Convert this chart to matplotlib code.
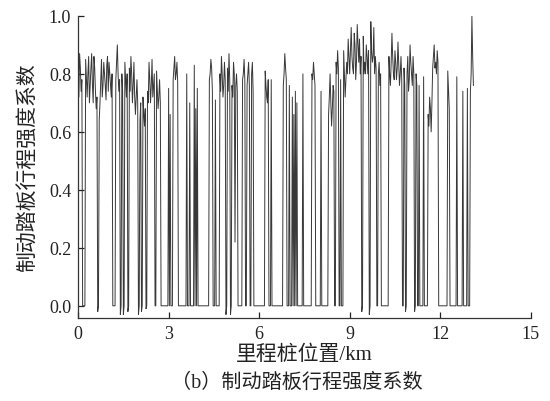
import numpy as np
import matplotlib
matplotlib.use("Agg")
import matplotlib.pyplot as plt

# Brake pedal travel intensity.
# row_xx: samples every 0.05 km starting at km xx; mid_xx: samples 0.025 km after each row sample
step_km = 0.025
row_00 = [0.80, 0.87, 0.74, 0.0, 0.0, 0.85, 0.72, 0.86, 0.76, 0.87, 0.70, 0.82, 0.68, -0.02, 0.64, 0.78, 0.72, 0.84, 0.76, 0.83]
mid_00 = [0.72, 0.82, 0.78, 0.0, 0.0, 0.78, 0.80, 0.70, 0.82, 0.76, 0.86, 0.74, 0.72, 0.0, 0.70, 0.85, 0.76, 0.80, 0.71, 0.86]
row_01 = [0.74, 0.80, 0.72, 0.0, 0.0, 0.78, 0.90, 0.74, -0.03, 0.80, -0.03, 0.84, 0.72, -0.02, 0.82, 0.86, 0.70, 0.84, 0.66, 0.78]
mid_01 = [0.84, 0.76, 0.80, 0.0, 0.0, 0.84, 0.80, 0.78, 0.0, 0.74, 0.0, 0.78, 0.80, 0.0, 0.74, 0.80, 0.76, 0.72, 0.72, 0.70]
row_02 = [-0.03, 0.64, -0.02, 0.72, 0.62, -0.01, 0.74, 0.84, 0.70, 0.85, 0.76, 0.0, 0.81, 0.68, 0.78, 0.0, 0.0, 0.0, 0.0, 0.0]
mid_02 = [0.0, 0.70, 0.0, 0.66, 0.68, 0.0, 0.70, 0.78, 0.76, 0.72, 0.80, 0.0, 0.74, 0.72, 0.70, 0.0, 0.0, 0.0, 0.0, 0.0]
row_03 = [0.75, 0.66, 0.0, 0.78, 0.86, 0.80, 0.77, 0.0, 0.0, 0.0, 0.0, 0.0, 0.80, 0.0, 0.70, 0.0, 0.0, 0.83, 0.68, 0.75]
mid_03 = [0.0, 0.0, 0.0, 0.82, 0.78, 0.84, 0.0, 0.0, 0.0, 0.0, 0.0, 0.0, 0.0, 0.0, 0.0, 0.0, 0.0, 0.0, 0.0, 0.0]
row_04 = [0.0, 0.0, 0.0, 0.0, 0.0, 0.0, 0.0, 0.78, 0.85, 0.74, 0.0, 0.71, 0.0, 0.0, 0.80, 0.86, 0.72, 0.84, -0.03, 0.82]
mid_04 = [0.0, 0.0, 0.0, 0.0, 0.0, 0.0, 0.0, 0.80, 0.82, 0.0, 0.0, 0.0, 0.0, 0.0, 0.74, 0.80, 0.76, 0.78, 0.0, 0.74]
row_05 = [0.87, -0.03, 0.76, 0.84, 0.22, 0.80, 0.0, 0.0, 0.0, 0.78, 0.85, 0.0, 0.76, 0.84, 0.0, 0.80, 0.74, 0.0, 0.0, 0.0]
mid_05 = [0.78, 0.0, 0.72, 0.80, 0.76, 0.74, 0.0, 0.0, 0.0, 0.80, 0.78, 0.0, 0.80, 0.76, 0.0, 0.84, 0.0, 0.0, 0.0, 0.0]
row_06 = [0.0, 0.0, 0.0, 0.0, 0.81, 0.72, 0.78, 0.0, 0.78, 0.0, 0.0, 0.0, 0.0, 0.0, 0.0, 0.0, 0.76, 0.87, 0.78, 0.0]
mid_06 = [0.0, 0.0, 0.0, 0.0, 0.76, 0.70, 0.0, 0.0, 0.0, 0.0, 0.0, 0.0, 0.0, 0.0, 0.0, 0.0, 0.80, 0.82, 0.0, 0.0]
row_07 = [0.76, 0.0, 0.72, 0.66, 0.74, 0.70, 0.0, 0.0, 0.0, 0.80, 0.0, 0.0, 0.0, 0.0, 0.0, 0.80, 0.84, 0.76, 0.0, 0.0]
mid_07 = [0.0, 0.0, 0.0, 0.0, 0.0, 0.0, 0.0, 0.0, 0.0, 0.0, 0.0, 0.0, 0.0, 0.0, 0.0, 0.78, 0.80, 0.0, 0.0, 0.0]
row_08 = [0.0, 0.74, 0.0, 0.0, 0.0, 0.0, 0.66, 0.80, 0.62, 0.76, 0.0, 0.84, 0.88, 0.0, 0.78, 0.0, 0.88, 0.72, 0.84, 0.92]
mid_08 = [0.0, 0.0, 0.0, 0.0, 0.0, 0.0, 0.72, 0.70, 0.68, 0.74, 0.0, 0.80, 0.82, 0.0, 0.0, 0.0, 0.80, 0.78, 0.80, 0.86]
row_09 = [0.80, 0.96, 0.82, 0.94, 0.78, 0.97, 0.84, 0.80, -0.02, 0.93, 0.84, 0.90, 0.80, -0.03, 0.98, 0.84, 0.96, 0.86, 0.0, 0.80]
mid_09 = [0.88, 0.86, 0.80, 0.90, 0.84, 0.90, 0.92, 0.86, 0.0, 0.80, 0.80, 0.86, 0.88, 0.0, 0.88, 0.86, 0.80, 0.82, 0.0, 0.84]
row_10 = [0.76, 0.0, 0.0, 0.0, 0.0, 0.0, 0.86, 0.76, 0.94, 0.80, 0.88, 0.78, 0.91, 0.76, 0.86, 0.0, 0.82, -0.02, 0.80, 0.74]
mid_10 = [0.80, 0.0, 0.0, 0.0, 0.0, 0.0, 0.80, 0.84, 0.86, 0.78, 0.84, 0.82, 0.84, 0.80, 0.78, 0.0, 0.76, 0.0, 0.86, 0.78]
row_11 = [0.90, 0.80, 0.86, -0.02, 0.80, 0.0, 0.76, 0.0, 0.0, 0.79, 0.0, 0.0, 0.66, 0.72, 0.60, 0.82, 0.90, 0.84, 0.88, 0.0]
mid_11 = [0.84, 0.76, 0.80, 0.0, 0.76, 0.0, 0.0, 0.0, 0.0, 0.0, 0.0, 0.0, 0.62, 0.68, 0.70, 0.86, 0.82, 0.80, 0.84, 0.0]
row_12 = [0.0, 0.0, 0.0, 0.0, 0.0, 0.81, 0.68, 0.0, 0.0, 0.0, 0.0, 0.79, 0.0, 0.0, 0.0, 0.74, 0.0, 0.0, 0.75, 0.0]
mid_12 = [0.0, 0.0, 0.0, 0.0, 0.0, 0.74, 0.0, 0.0, 0.0, 0.0, 0.0, 0.0, 0.0, 0.0, 0.0, 0.0, 0.0, 0.0, 0.0, 0.0]
row_13 = [0.74, 1.00, 0.76]
mid_13 = [0.80, 0.86]

rows = [row_00, row_01, row_02, row_03, row_04, row_05, row_06, row_07, row_08, row_09, row_10, row_11, row_12, row_13]
mids = [mid_00, mid_01, mid_02, mid_03, mid_04, mid_05, mid_06, mid_07, mid_08, mid_09, mid_10, mid_11, mid_12, mid_13]
main_vals = [v for r in rows for v in r]
mid_vals = [v for m in mids for v in m]
intensity = []
for v, m in zip(main_vals, mid_vals):
    intensity += [v, m]
intensity.append(main_vals[-1])
intensity = np.array(intensity)
mileage_km = np.arange(len(intensity)) * step_km

x_ticks = [0, 3, 6, 9, 12, 15]
y_ticks = [0.0, 0.2, 0.4, 0.6, 0.8, 1.0]
x_label = "里程桩位置/km"
y_label = "制动踏板行程强度系数"
caption = "（b）制动踏板行程强度系数"

fam = ["Liberation Serif", "Noto Sans CJK SC", "DejaVu Sans"]
plt.rcParams["font.family"] = fam

fig = plt.figure(figsize=(5.5, 4.02), dpi=100)
ax = fig.add_axes([0.142, 0.2065, 0.823, 0.7515])
ax.plot(mileage_km, intensity, color="#383838", linewidth=0.7)

ax.set_xlim(0, 15)
ax.set_ylim(-0.042, 1.0)
ax.set_xticks(x_ticks)
ax.set_yticks(y_ticks)
ax.set_yticklabels([f"{v:.1f}" for v in y_ticks])
ax.tick_params(direction="in", length=4, width=0.9, labelsize=13, colors="#222222", pad=5)
for s in ["top", "right"]:
    ax.spines[s].set_visible(False)
for s in ["left", "bottom"]:
    ax.spines[s].set_color("#333333")
    ax.spines[s].set_linewidth(0.9)

ax.set_xlabel(x_label, fontsize=15, color="#222222", labelpad=2)
ax.set_ylabel(y_label, fontsize=15, color="#222222", labelpad=7)
fig.text(0.54, 0.046, caption, ha="center", va="center", fontsize=14.5, color="#222222")

fig.savefig("out.png", dpi=100)
